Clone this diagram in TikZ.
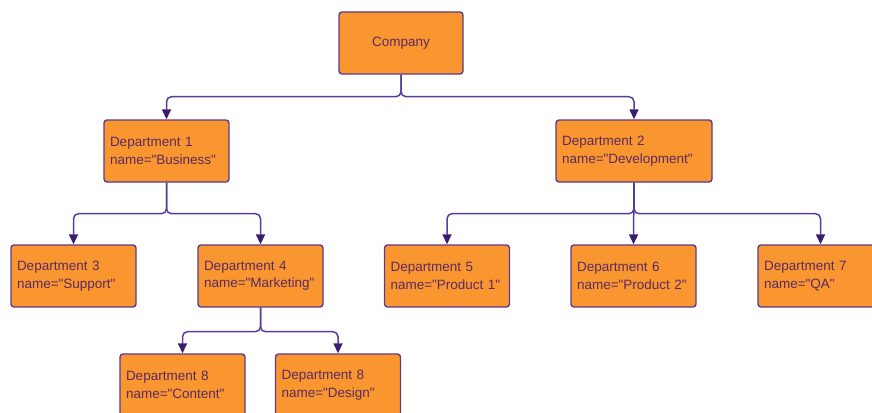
\documentclass[tikz,border=0pt]{standalone}
\usepackage{fontspec}
\setmainfont{Liberation Sans}[Ligatures=TeXOff]
\usetikzlibrary{arrows.meta}
\definecolor{boxfill}{HTML}{F9962F}
\definecolor{boxline}{HTML}{5E3A8E}
\definecolor{linkline}{HTML}{5A3C9C}
\definecolor{tipcol}{HTML}{3B1C6E}
\definecolor{labelcol}{HTML}{5B2A62}
\tikzset{
  unit/.style={draw=boxline, fill=boxfill, line width=1.4pt, rounded corners=3pt,
    minimum height=62pt, text width=#1, inner xsep=6pt, align=left,
    text=labelcol, font=\fontsize{13.5}{17.5}\selectfont},
  unit/.default=113pt,
  top/.style={draw=boxline, fill=boxfill, line width=1.4pt, rounded corners=3pt,
    minimum width=124pt, minimum height=62pt, inner sep=0pt,
    text=labelcol, font=\fontsize{13.5}{17.5}\selectfont},
  link/.style={draw=linkline, line width=1.5pt, rounded corners=5pt,
    -{Triangle[length=10pt,width=9pt,fill=tipcol,color=tipcol]}}
}
\begin{document}
\begin{tikzpicture}[x=1pt, y=-1pt]
\useasboundingbox (0,0) rectangle (872,412);
\begin{scope}
\clip (0,0) rectangle (872,412);
% organisation units
\node[top] (comp) at (401,43) {Company};
\node[unit] (d1) at (166.5,151) {Department 1\\name="Business"};
\node[unit=144pt] (d2) at (634,151) {Department 2\\name="Development"};
\node[unit] (d3) at (73.5,276) {Department 3\\name="Support"};
\node[unit] (d4) at (260.5,276) {Department 4\\name="Marketing"};
\node[unit] (d5) at (447,276) {Department 5\\name="Product 1"};
\node[unit] (d6) at (633.5,276) {Department 6\\name="Product 2"};
\node[unit] (d7) at (820.5,276) {Department 7\\name="QA"};
\node[unit] (d8) at (182.5,385) {Department 8\\name="Content"};
\node[unit] (d9) at (338,385) {Department 8\\name="Design"};
% reporting lines
\draw[link] (comp.south) -- ++(0,22) -| (d1.north);
\draw[link] (comp.south) -- ++(0,22) -| (d2.north);
\draw[link] (d1.south) -- ++(0,31) -| (d3.north);
\draw[link] (d1.south) -- ++(0,31) -| (d4.north);
\draw[link] (d2.south) -- ++(0,31) -| (d5.north);
\draw[link] (d2.south) -- (d6.north);
\draw[link] (d2.south) -- ++(0,31) -| (d7.north);
\draw[link] (d4.south) -- ++(0,24) -| (d8.north);
\draw[link] (d4.south) -- ++(0,24) -| (d9.north);
\end{scope}
\end{tikzpicture}
\end{document}
